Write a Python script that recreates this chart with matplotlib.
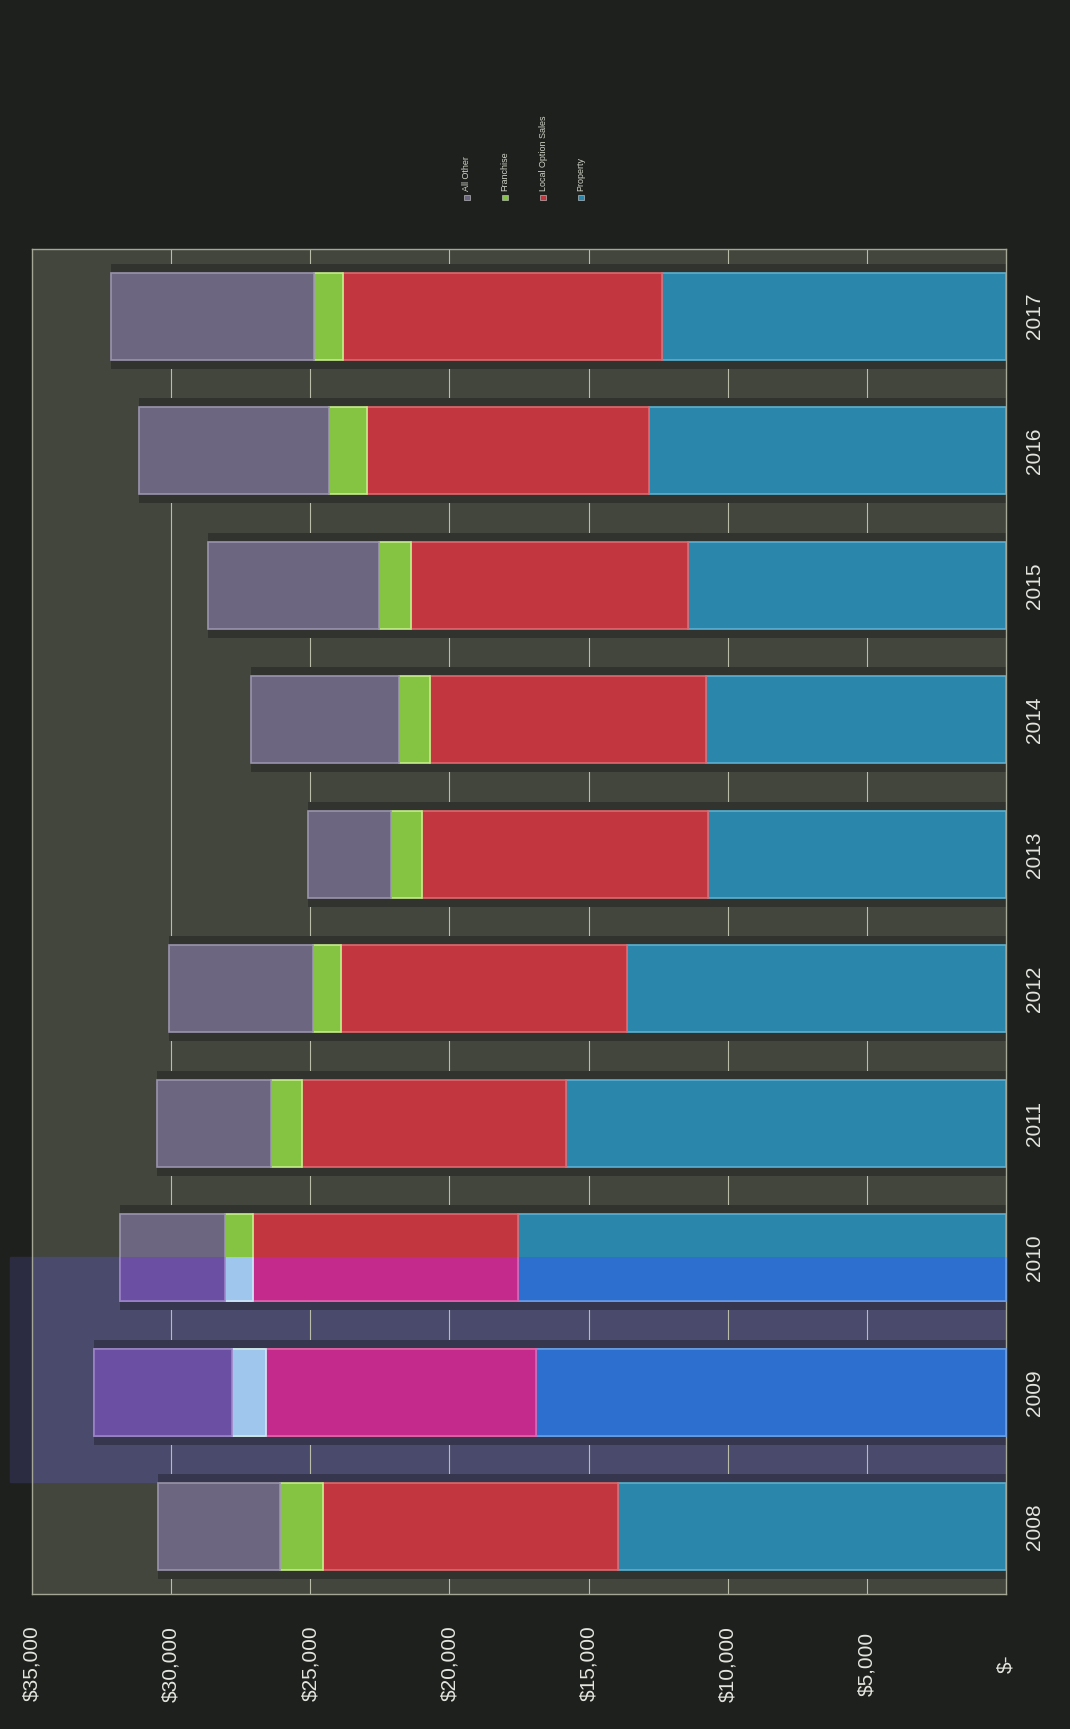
import matplotlib.pyplot as plt
import numpy as np
from matplotlib.patches import Rectangle

# Werte (in $)
years = ['2008', '2009', '2010', '2011', '2012', '2013', '2014', '2015', '2016', '2017']
property_tax = [13950, 16870, 17530, 15810, 13620, 10690, 10790, 11410, 12830, 12360]
local_option_sales = [10580, 9720, 9520, 9480, 10270, 10300, 9910, 9970, 10130, 11480]
franchise = [1570, 1220, 1000, 1120, 1030, 1110, 1100, 1140, 1350, 1030]
all_other = [4380, 4970, 3800, 4090, 5170, 2970, 5340, 6170, 6860, 7280]

series_names = ['Property', 'Local Option Sales', 'Franchise', 'All Other']
series_values = [property_tax, local_option_sales, franchise, all_other]
value_ticks = [35000, 30000, 25000, 20000, 15000, 10000, 5000, 0]
value_labels = ['$35,000', '$30,000', '$25,000', '$20,000', '$15,000', '$10,000', '$5,000', '$-']

colors = ['#2a86ab', '#c2363f', '#85c443', '#6d6680']
edge_colors = ['#5cb0d2', '#e0686e', '#c6ec8a', '#9a93ad']
# eingescannter Farbstich (blauer Streifen)
tint_colors = ['#2d6fcf', '#c42a8c', '#9fc6ec', '#6b4fa3']
tint_edges = ['#6a9be6', '#e062b0', '#d0e6f8', '#9a82c8']

FONT = 'Liberation Sans'
TEXT_COLOR = '#e4e5de'

fig = plt.figure(figsize=(10.7, 17.29), dpi=100, facecolor='#1e201d')
ax = fig.add_axes([0.030, 0.078, 0.910, 0.778], facecolor='#42463d')

y = np.arange(len(years))
totals = np.sum(series_values, axis=0)

# Streifen mit Farbstich (Figurkoordinaten)
band_y0, band_y1 = 0.143, 0.273
fig.add_artist(Rectangle((0.009, band_y0), 0.021, band_y1 - band_y0,
                         transform=fig.transFigure, color='#2b2c42', zorder=-1))
ax.add_patch(Rectangle((0, band_y0), 1, band_y1 - band_y0,
                       transform=fig.transFigure, color='#4a4b6c', zorder=0.5))

for v in value_ticks[1:-1]:
    ax.axvline(v, color='#b9bca8', lw=0.8, zorder=1)


def draw_bars(cols, edges, shadow, clip=None):
    artists = []
    artists += list(ax.barh(y, totals, height=0.78, color=shadow, zorder=2))
    left = np.zeros(len(years))
    for vals, c, e in zip(series_values, cols, edges):
        artists += list(ax.barh(y, vals, left=left, height=0.645, color=c,
                                edgecolor=e, linewidth=1.2, zorder=3))
        left += np.array(vals)
    if clip is not None:
        for a in artists:
            a.set_clip_path(clip)


draw_bars(colors, edge_colors, '#31342e')
band_clip = Rectangle((0, band_y0), 1, band_y1 - band_y0, transform=fig.transFigure)
draw_bars(tint_colors, tint_edges, '#36364f', clip=band_clip)

ax.set_xlim(35000, 0)
ax.set_ylim(-0.5, len(years) - 0.5)

ax.set_xticks(value_ticks)
ax.set_xticklabels(value_labels, rotation=90, va='center', ha='center',
                   fontsize=15, color=TEXT_COLOR, family=FONT)
ax.tick_params(axis='x', length=0, pad=50)

ax.yaxis.tick_right()
ax.set_yticks(y)
ax.set_yticklabels(years, rotation=90, va='center', ha='center',
                   fontsize=15, color=TEXT_COLOR, family=FONT)
ax.tick_params(axis='y', length=0, pad=21)

for s in ax.spines.values():
    s.set_color('#a4a796')
    s.set_linewidth(1.0)

# gedrehte Legende oben
legend_x = [0.4364, 0.4720, 0.5075, 0.5430]
for name, c, lx in zip(series_names[::-1], colors[::-1], legend_x):
    fig.add_artist(Rectangle((lx - 0.0024, 0.8845), 0.0048, 0.0030,
                             transform=fig.transFigure, facecolor=c,
                             edgecolor='#d0d0d0', linewidth=0.4))
    fig.text(lx, 0.8895, name, rotation=90, ha='center', va='bottom',
             fontsize=6.5, color='#cfd2c6', family=FONT)

fig.savefig('out.png', dpi=100, facecolor=fig.get_facecolor())
